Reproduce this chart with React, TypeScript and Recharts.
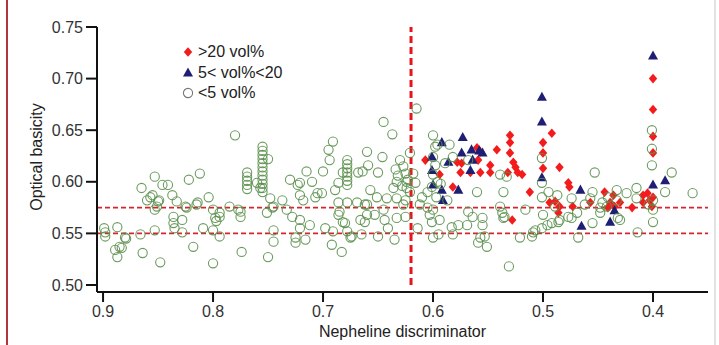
import React from 'react';
import { ScatterChart, Scatter, XAxis, YAxis, ReferenceLine, Label } from 'recharts';

const xTicks = [0.9, 0.8, 0.7, 0.6, 0.5, 0.4];
const yTicks = [0.5, 0.55, 0.6, 0.65, 0.7, 0.75];
const seriesNames = ['>20 vol%', '5< vol%<20', '<5 vol%'];
const nephelineThreshold = 0.62;
const basicityLimits = [0.575, 0.55];

type P = { x: number; y: number };
const pts = (a: number[][]): P[] => a.map(([x, y]) => ({ x, y }));

const highVol = pts([
  [0.4, 0.7], [0.4, 0.67], [0.4, 0.644], [0.4, 0.628], [0.4, 0.585], [0.401, 0.576], [0.403, 0.582],
  [0.409, 0.587], [0.409, 0.58], [0.405, 0.589], [0.419, 0.575], [0.43, 0.58], [0.435, 0.576],
  [0.436, 0.587], [0.439, 0.58], [0.441, 0.575], [0.444, 0.59], [0.457, 0.58], [0.473, 0.576],
  [0.477, 0.599], [0.476, 0.595], [0.485, 0.576], [0.486, 0.57], [0.489, 0.581], [0.494, 0.58],
  [0.485, 0.614], [0.492, 0.647], [0.5, 0.638], [0.5, 0.628], [0.5, 0.613], [0.512, 0.59],
  [0.528, 0.563], [0.53, 0.645], [0.53, 0.638], [0.53, 0.628], [0.527, 0.619], [0.525, 0.614],
  [0.523, 0.609], [0.519, 0.607], [0.532, 0.609], [0.542, 0.631], [0.548, 0.616], [0.548, 0.609],
  [0.557, 0.629], [0.56, 0.633], [0.559, 0.621], [0.557, 0.609], [0.566, 0.609], [0.575, 0.609],
  [0.582, 0.595], [0.594, 0.607], [0.607, 0.621], [0.578, 0.619], [0.574, 0.618],
]);

const midVol = pts([
  [0.4, 0.722], [0.501, 0.682], [0.501, 0.658], [0.501, 0.604], [0.573, 0.643], [0.592, 0.638],
  [0.574, 0.628], [0.565, 0.631], [0.564, 0.621], [0.555, 0.628], [0.566, 0.611], [0.586, 0.619],
  [0.601, 0.624], [0.601, 0.611], [0.592, 0.592], [0.591, 0.582], [0.577, 0.592], [0.6, 0.597],
  [0.466, 0.592], [0.465, 0.557], [0.439, 0.561], [0.435, 0.572], [0.4, 0.597], [0.389, 0.601],
  [0.558, 0.63],
]);

const lowVolA = pts([
  [0.898, 0.551], [0.898, 0.547], [0.887, 0.556], [0.889, 0.534], [0.883, 0.536], [0.887, 0.527],
  [0.879, 0.545], [0.866, 0.549], [0.864, 0.531], [0.865, 0.594], [0.86, 0.582], [0.857, 0.585],
  [0.853, 0.605], [0.855, 0.587], [0.851, 0.576], [0.846, 0.597], [0.841, 0.597], [0.85, 0.581],
  [0.837, 0.587], [0.833, 0.581], [0.853, 0.553], [0.848, 0.522], [0.836, 0.566], [0.836, 0.56],
  [0.828, 0.563], [0.828, 0.551], [0.824, 0.575], [0.822, 0.602], [0.812, 0.608], [0.814, 0.58],
  [0.818, 0.537], [0.809, 0.555], [0.804, 0.585], [0.8, 0.573], [0.899, 0.555], [0.88, 0.546],
  [0.835, 0.555], [0.885, 0.537], [0.853, 0.573], [0.825, 0.576], [0.815, 0.578], [0.849, 0.582],
]);

const lowVolB = pts([
  [0.798, 0.565], [0.797, 0.562], [0.794, 0.566], [0.8, 0.553], [0.794, 0.547], [0.8, 0.521],
  [0.785, 0.576], [0.777, 0.573], [0.775, 0.566], [0.774, 0.532], [0.78, 0.645],
  [0.769, 0.609], [0.769, 0.605], [0.769, 0.601], [0.769, 0.597], [0.769, 0.593],
  [0.76, 0.599],
  [0.755, 0.634], [0.755, 0.63], [0.755, 0.626], [0.755, 0.622], [0.755, 0.618], [0.755, 0.614],
  [0.755, 0.61], [0.755, 0.606], [0.755, 0.602], [0.755, 0.598], [0.755, 0.594], [0.755, 0.59],
  [0.75, 0.622], [0.751, 0.57], [0.745, 0.576], [0.745, 0.542], [0.745, 0.553], [0.75, 0.527],
  [0.757, 0.594], [0.748, 0.584], [0.737, 0.582], [0.746, 0.575], [0.733, 0.573], [0.728, 0.566],
  [0.721, 0.563], [0.721, 0.555], [0.712, 0.558], [0.725, 0.546], [0.725, 0.541], [0.716, 0.544],
  [0.73, 0.602], [0.721, 0.599], [0.71, 0.6], [0.723, 0.597], [0.721, 0.587], [0.718, 0.582],
  [0.715, 0.61], [0.707, 0.585], [0.701, 0.589], [0.7, 0.61], [0.775, 0.571], [0.794, 0.57],
]);

const lowVolC = pts([
  [0.698, 0.555], [0.691, 0.552], [0.683, 0.532], [0.692, 0.539], [0.689, 0.592], [0.686, 0.599],
  [0.682, 0.609], [0.678, 0.621], [0.678, 0.617], [0.678, 0.613], [0.678, 0.609], [0.678, 0.605],
  [0.678, 0.601], [0.678, 0.597], [0.685, 0.571], [0.68, 0.56], [0.675, 0.546], [0.678, 0.58],
  [0.691, 0.639], [0.695, 0.631], [0.694, 0.621], [0.645, 0.658], [0.637, 0.646], [0.66, 0.629],
  [0.659, 0.616], [0.646, 0.624], [0.668, 0.609], [0.65, 0.609], [0.682, 0.561], [0.678, 0.552],
  [0.674, 0.547], [0.686, 0.568], [0.686, 0.58], [0.705, 0.589], [0.669, 0.58], [0.666, 0.563],
  [0.662, 0.561], [0.66, 0.568], [0.66, 0.578], [0.651, 0.585], [0.653, 0.568], [0.644, 0.563],
  [0.642, 0.584], [0.645, 0.573], [0.633, 0.584], [0.633, 0.565], [0.65, 0.547], [0.665, 0.549],
  [0.63, 0.621], [0.627, 0.615], [0.625, 0.608], [0.623, 0.602], [0.628, 0.596], [0.621, 0.59],
  [0.632, 0.606], [0.625, 0.582], [0.634, 0.612], [0.633, 0.6], [0.636, 0.594], [0.641, 0.555],
  [0.635, 0.544], [0.664, 0.61], [0.657, 0.592], [0.662, 0.578],
]);

const lowVolD = pts([
  [0.624, 0.594], [0.627, 0.578], [0.625, 0.566], [0.614, 0.555], [0.605, 0.575], [0.603, 0.568],
  [0.6, 0.573], [0.601, 0.561], [0.594, 0.563], [0.595, 0.549], [0.6, 0.546], [0.587, 0.582],
  [0.583, 0.556], [0.582, 0.549], [0.577, 0.558], [0.569, 0.558], [0.568, 0.571], [0.564, 0.566],
  [0.56, 0.59], [0.555, 0.565], [0.555, 0.558], [0.553, 0.547], [0.559, 0.541], [0.551, 0.537],
  [0.537, 0.57], [0.535, 0.566], [0.536, 0.59], [0.539, 0.576], [0.531, 0.518], [0.516, 0.573],
  [0.507, 0.553], [0.5, 0.568], [0.496, 0.558], [0.51, 0.547], [0.521, 0.546], [0.509, 0.551],
  [0.501, 0.555], [0.557, 0.546], [0.536, 0.565], [0.615, 0.671], [0.6, 0.645], [0.585, 0.636],
  [0.596, 0.636], [0.501, 0.623], [0.539, 0.607], [0.598, 0.634], [0.6, 0.624], [0.598, 0.616],
  [0.6, 0.607], [0.596, 0.6], [0.601, 0.595], [0.621, 0.628], [0.618, 0.608], [0.624, 0.6],
  [0.616, 0.599], [0.582, 0.624], [0.589, 0.618], [0.568, 0.621], [0.533, 0.605], [0.501, 0.599],
  [0.501, 0.585], [0.61, 0.585], [0.605, 0.59], [0.612, 0.578], [0.597, 0.585], [0.593, 0.598],
]);

const lowVolE = pts([
  [0.453, 0.609], [0.455, 0.59], [0.441, 0.585], [0.424, 0.589], [0.415, 0.594], [0.364, 0.589],
  [0.414, 0.551], [0.4, 0.561], [0.468, 0.546], [0.492, 0.56], [0.485, 0.563], [0.477, 0.566],
  [0.469, 0.57], [0.448, 0.57], [0.433, 0.582], [0.43, 0.563], [0.442, 0.576], [0.489, 0.576],
  [0.401, 0.65], [0.401, 0.632], [0.401, 0.616], [0.383, 0.609], [0.487, 0.587], [0.474, 0.584],
  [0.474, 0.565], [0.486, 0.561], [0.457, 0.584], [0.446, 0.58], [0.455, 0.56], [0.432, 0.565],
  [0.415, 0.584], [0.389, 0.59], [0.433, 0.592], [0.448, 0.575], [0.4, 0.582], [0.4, 0.573],
  [0.404, 0.578], [0.462, 0.578], [0.495, 0.59],
]);

const lowVol = [...lowVolA, ...lowVolB, ...lowVolC, ...lowVolD, ...lowVolE];

const RED = '#f31c1c';
const NAVY = '#1e1e74';
const GREEN = '#5c904e';
const FONT = '"Liberation Sans", Arial, Helvetica, sans-serif';

const Diamond = (p: any) => (
  <path d={`M${p.cx},${p.cy - 4.8}L${p.cx + 4.2},${p.cy}L${p.cx},${p.cy + 4.8}L${p.cx - 4.2},${p.cy}Z`} fill={RED} />
);
const Triangle = (p: any) => (
  <path d={`M${p.cx},${p.cy - 5.5}L${p.cx + 5},${p.cy + 3.6}L${p.cx - 5},${p.cy + 3.6}Z`} fill={NAVY} />
);
const Ring = (p: any) => (
  <circle cx={p.cx} cy={p.cy} r={4.6} fill="none" stroke={GREEN} strokeWidth={1.1} strokeOpacity={0.9} />
);

const legendIcons = [
  <path d="M7,2.2L11.2,7L7,11.8L2.8,7Z" fill={RED} />,
  <path d="M7,1.5L12,10.6L2,10.6Z" fill={NAVY} />,
  <circle cx={7} cy={7} r={4.6} fill="none" stroke="#777" strokeWidth={1.1} />,
];

export default function App() {
  return (
    <div style={{ position: 'fixed', left: 0, top: 0, width: 719, height: 345, background: '#fff' }}>
      <div style={{ position: 'absolute', left: 6, top: 0, width: 2, height: 345, background: '#b23440' }} />
      <div style={{ position: 'absolute', left: 714, top: 0, width: 2, height: 345, background: '#e2e2e2' }} />
      <ScatterChart width={719} height={345} margin={{ top: 27, right: 11, bottom: 0, left: 0 }} style={{ fontFamily: FONT }}>
        <XAxis
          type="number"
          dataKey="x"
          domain={[0.35, 0.9055]}
          reversed
          allowDataOverflow
          ticks={xTicks}
          tickFormatter={(v: number) => v.toFixed(1)}
          height={53}
          tickSize={10}
          tickMargin={4}
          stroke="#111"
          strokeWidth={2}
          tick={{ fill: '#333', fontSize: 16, fontFamily: FONT }}
        >
          <Label value="Nepheline discriminator" position="insideBottom" offset={8} style={{ fill: '#222', fontSize: 16, fontFamily: FONT }} />
        </XAxis>
        <YAxis
          type="number"
          dataKey="y"
          domain={[0.4932, 0.75]}
          allowDataOverflow
          ticks={yTicks}
          tickFormatter={(v: number) => v.toFixed(2)}
          width={97}
          tickSize={11}
          tickMargin={3}
          stroke="#111"
          strokeWidth={2}
          tick={{ fill: '#333', fontSize: 16, fontFamily: FONT }}
        >
          <Label
            content={() => (
              <text x={36} y={157} transform="rotate(-90,36,157)" textAnchor="middle" dominantBaseline="central" fill="#222" fontSize={16} fontFamily={FONT}>
                Optical basicity
              </text>
            )}
          />
        </YAxis>
        <ReferenceLine y={basicityLimits[0]} stroke="#d8222d" strokeWidth={1.6} strokeDasharray="5 3" />
        <ReferenceLine y={basicityLimits[1]} stroke="#d8222d" strokeWidth={1.6} strokeDasharray="5 3" />
        <ReferenceLine
          segment={[{ x: nephelineThreshold, y: 0.5 }, { x: nephelineThreshold, y: 0.75 }]}
          stroke="#e8141b"
          strokeWidth={3}
          strokeDasharray="7 4"
        />
        <Scatter name={seriesNames[0]} data={highVol} shape={Diamond} isAnimationActive={false} />
        <Scatter name={seriesNames[1]} data={midVol} shape={Triangle} isAnimationActive={false} />
        <Scatter name={seriesNames[2]} data={lowVol} shape={Ring} isAnimationActive={false} />
      </ScatterChart>
      <div style={{ position: 'absolute', left: 181, top: 42, fontFamily: FONT, fontSize: 16, color: '#222' }}>
        {seriesNames.map((n, i) => (
          <div key={n} style={{ display: 'flex', alignItems: 'center', height: 20.5, whiteSpace: 'nowrap' }}>
            <svg width={14} height={14} style={{ marginRight: 3 }}>{legendIcons[i]}</svg>
            <span>{n}</span>
          </div>
        ))}
      </div>
    </div>
  );
}
